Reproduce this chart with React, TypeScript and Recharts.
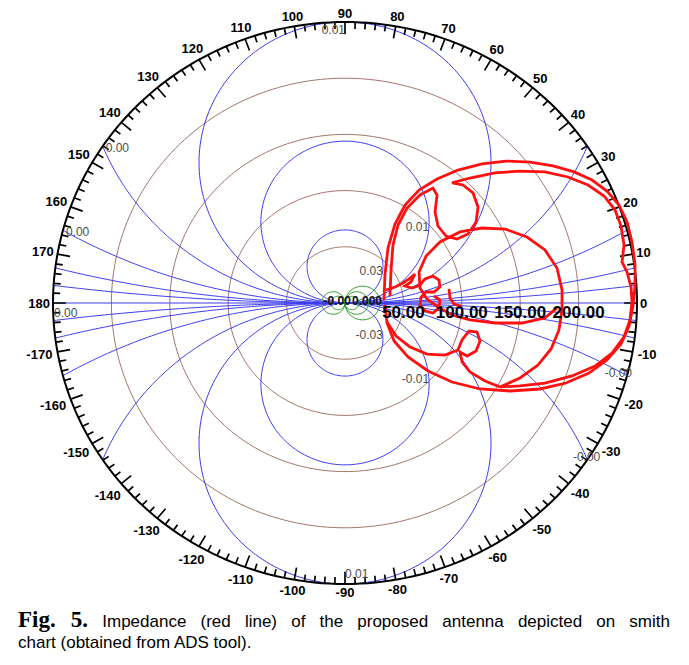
import React from "react";
import { ComposedChart, Line, Scatter, XAxis, YAxis } from "recharts";

const W = 689;
const H = 610;
const R = 250; // ohm at the outer ring

// |Z| rings (ohm) and their labels on the real axis
const magRings = [50, 100, 150, 200];
const magLabels = ["50.00", "100.00", "150.00", "200.00"];

// susceptance circles tangent to the real axis at the origin: radius in ohm (+ above, - below)
const suscCircles = [32.5, 72, 125, 224, 483, 1000, 2000, -32.5, -72, -125, -224, -483, -1000, -2000];
const suscLabels = ["0.03", "0.01", "0.01", "0.00", "0.00", "", "", "-0.03", "-0.01", "0.01", "-0.00", "-0.00", "", ""];

// conductance circles tangent to the imaginary axis at the origin
const condCircles = [15, 10, 6, -6, -10];
const centreLabels = ["-0.00", "0.000"];

// angle labels on the outer ring (degrees)
const angleLabels = [0, 10, 20, 30, 40, 50, 60, 70, 80, 90, 100, 110, 120, 130, 140, 150, 160, 170, 180,
  -10, -20, -30, -40, -50, -60, -70, -80, -90, -100, -110, -120, -130, -140, -150, -160, -170];

// impedance trace (re, im) in ohm
const traceOuter: [number, number][] = [
  [33.4, 2.7], [34.2, 24.9], [36.8, 48.9], [42.8, 70.3], [51.4, 87.2], [63.4, 100.5], [78.8, 110.3],
  [96.7, 118.3], [117.3, 123.7], [137.8, 126.3], [158.4, 125.4], [178.1, 121.9], [196.1, 116.6],
  [211.5, 109.4], [224.3, 99.6], [234.6, 87.2], [241.5, 72.1], [245.7, 54.3], [248.3, 34.7],
  [248.3, 15.1], [246.6, -2.7], [243.2, -20.5], [236.3, -36.5], [224.3, -50.7], [208.9, -62.3],
  [189.2, -71.2], [167.0, -76.5], [141.3, -78.3], [115.6, -76.5], [91.6, -70.3], [71.1, -60.5],
  [53.9, -48.0], [42.0, -33.8], [36.0, -17.8], [34.2, -1.8],
];
const traceInner: [number, number][] = [
  [38.5, 6.2], [39.4, 29.4], [41.1, 51.6], [45.4, 69.4], [53.1, 84.5], [64.2, 96.1], [75.3, 102.3],
  [78.8, 96.1], [77.1, 81.0], [79.6, 68.5], [86.5, 59.6], [95.9, 56.9], [105.3, 61.4], [112.2, 72.1],
  [113.9, 85.4], [109.6, 97.9], [101.0, 105.0], [91.6, 106.8], [107.0, 111.2], [128.4, 115.7],
  [149.8, 117.4], [171.2, 116.6], [190.9, 112.1], [208.1, 105.0], [221.8, 95.2], [231.2, 82.7],
  [236.3, 68.5], [238.9, 51.6], [237.2, 36.5], [241.4, 27.6], [244.9, 14.2], [245.7, 0.9],
  [244.0, -15.1], [238.9, -30.2], [228.6, -44.5], [214.1, -56.1], [194.4, -64.9], [171.2, -71.2],
  [149.8, -73.8], [132.7, -74.7], [149.8, -66.7], [165.2, -55.2], [176.4, -40.9], [183.2, -24.0],
  [185.8, -6.2], [185.8, 11.6], [181.5, 31.1], [171.2, 47.2], [155.8, 58.7], [137.0, 65.8],
  [117.3, 66.7], [98.5, 63.2], [81.3, 54.3], [69.4, 41.8], [63.4, 27.6], [64.2, 13.3], [70.2, 3.6],
  [79.6, -3.6], [91.6, -10.7], [107.0, -15.1], [128.4, -17.8], [151.5, -17.8], [171.2, -13.3],
  [181.5, -4.4],
];
const traceWiggle: [number, number][] = [
  [35.1, 11.6], [42.8, 14.2], [49.7, 17.8], [55.7, 22.2], [59.9, 25.8], [56.5, 18.7], [51.4, 15.1],
  [57.4, 13.3], [64.2, 16.0], [68.5, 21.4], [75.3, 24.0], [80.5, 20.5], [81.3, 14.2], [76.2, 9.8],
  [69.4, 9.8], [65.1, 5.3], [64.2, -1.8], [68.5, -7.1], [75.3, -8.9], [80.5, -4.4], [81.3, 2.7],
  [76.2, 6.2],
];
const traceHook: [number, number][] = [[89.0, 12.5], [89.9, 4.4], [93.3, -0.9], [99.3, -2.7]];
const traceLow: [number, number][] = [
  [36.0, -16.9], [43.7, -29.4], [55.7, -39.1], [70.2, -45.4], [85.6, -46.3], [96.7, -41.8],
  [100.2, -32.9], [106.2, -24.9], [113.0, -25.8], [115.6, -33.8], [112.2, -42.7], [104.5, -47.2],
  [98.5, -43.6], [100.2, -52.5], [107.0, -61.4], [119.9, -69.4], [132.7, -74.7],
];

const BLUE = "#3c3cf2";
const BROWN = "#a0766c";
const GREEN = "#2a9a2a";
const FONT = "'Liberation Sans', Arial, sans-serif";

function ring(r: number) {
  const pts = [];
  for (let i = 0; i <= 240; i++) {
    const t = (i / 240) * Math.PI * 2;
    pts.push({ x: r * Math.cos(t), y: r * Math.sin(t) });
  }
  return pts;
}

// circle through the origin, centre on the imaginary axis, clipped to the outer ring
function suscArc(b: number) {
  const B = Math.abs(b);
  const s = Math.sign(b);
  const lim = B > R / 2 ? Math.acos(1 - (R * R) / (2 * B * B)) : Math.PI;
  const pts = [];
  for (let i = 0; i <= 200; i++) {
    const p = -lim + (2 * lim * i) / 200;
    pts.push({ x: B * Math.sin(p), y: s * B * (1 - Math.cos(p)) });
  }
  return pts;
}

function condCircle(a: number) {
  const A = Math.abs(a);
  const pts = [];
  for (let i = 0; i <= 80; i++) {
    const p = (i / 80) * Math.PI * 2;
    pts.push({ x: a + A * Math.cos(p), y: A * Math.sin(p) });
  }
  return pts;
}

function tickMarks() {
  const pts: { x: number; y: number | null }[] = [];
  for (let d = -178; d <= 180; d += 2) {
    const t = (d * Math.PI) / 180;
    const len = d % 10 === 0 ? 11 : 6;
    pts.push({ x: R * Math.cos(t), y: R * Math.sin(t) });
    pts.push({ x: (R - len) * Math.cos(t), y: (R - len) * Math.sin(t) });
    pts.push({ x: 0, y: null });
  }
  return pts;
}

const toPts = (arr: [number, number][]) => arr.map(([x, y]) => ({ x, y }));

function suscLabelPoints() {
  const out: { x: number; y: number; text: string; anchor: string; dx: number; dy: number }[] = [];
  suscCircles.forEach((b, i) => {
    const text = suscLabels[i];
    if (!text) return;
    const B = Math.abs(b);
    const s = Math.sign(b);
    if (B < R / 2 - 1) {
      out.push({ x: B, y: b, text, anchor: "end", dx: 0, dy: s > 0 ? 9 : -1 });
    } else if (B < R / 2 + 1) {
      out.push({ x: 0, y: 2 * b, text, anchor: s > 0 ? "end" : "start", dx: 0, dy: s > 0 ? 12 : -6 });
    } else {
      const sn = R / (2 * B);
      const cs = Math.sqrt(1 - sn * sn);
      if (s > 0) out.push({ x: -R * cs, y: R * sn, text, anchor: "start", dx: 3, dy: 6 });
      else out.push({ x: R * cs, y: -R * sn, text, anchor: "end", dx: B < 300 ? 13 : 5, dy: 1 });
    }
  });
  out.push({ x: -R, y: 0, text: "0.00", anchor: "start", dx: 1, dy: 14 });
  return out;
}

const AngleLabel = (props: any) => {
  const { cx, cy, payload } = props;
  const t = (payload.a * Math.PI) / 180;
  const txt = String(payload.a);
  const w = txt.length * 7.3;
  const d = 3 + (w / 2) * Math.abs(Math.cos(t)) + 5.5 * Math.abs(Math.sin(t));
  return (
    <text x={cx + d * Math.cos(t)} y={cy - d * Math.sin(t)} textAnchor="middle" dominantBaseline="central"
      fontFamily={FONT} fontWeight="bold" fontSize={13} fill="#000">
      {txt}
    </text>
  );
};

const GrayLabel = (props: any) => {
  const { cx, cy, payload } = props;
  return (
    <text x={cx + payload.dx} y={cy + payload.dy} textAnchor={payload.anchor} fontFamily={FONT} fontSize={12} fill="#4d4d4d">
      {payload.text}
    </text>
  );
};

const MagLabel = (props: any) => {
  const { cx, cy, payload } = props;
  return (
    <text x={cx} y={cy + 15} textAnchor="middle" fontFamily={FONT} fontWeight="bold" fontSize={17} fill="#000">
      {payload.text}
    </text>
  );
};

const CentreLabel = (props: any) => {
  const { cx, cy, payload } = props;
  return (
    <text x={cx} y={cy + 2} textAnchor={payload.anchor} fontFamily={FONT} fontWeight="bold" fontSize={12} fill="#111">
      {payload.text}
    </text>
  );
};

export default function App() {
  const angleData = angleLabels.map((a) => ({ x: R * Math.cos((a * Math.PI) / 180), y: R * Math.sin((a * Math.PI) / 180), a }));
  const magData = magRings.map((r, i) => ({ x: r, y: 0, text: magLabels[i] }));
  const centreData = [
    { x: 5, y: 0, text: centreLabels[0], anchor: "end" },
    { x: 6, y: 0, text: centreLabels[1], anchor: "start" },
  ];
  const traces = [traceOuter, traceInner, traceWiggle, traceHook, traceLow];

  return (
    <div style={{ position: "relative", width: W, height: 665, background: "#fff" }}>
      <style>{`body{margin:0;background:#fff}`}</style>
      <ComposedChart width={W} height={H} margin={{ top: 22, right: 52, bottom: H - 584, left: 53 }}>
        <XAxis type="number" dataKey="x" domain={[-R, R]} hide />
        <YAxis type="number" dataKey="y" domain={[-R, R]} hide />
        {magRings.map((r) => (
          <Line key={`m${r}`} data={ring(r)} dataKey="y" stroke={BROWN} strokeWidth={1} dot={false} isAnimationActive={false} />
        ))}
        <Line data={[{ x: -R, y: 0 }, { x: R, y: 0 }]} dataKey="y" stroke={BLUE} strokeWidth={1} dot={false} isAnimationActive={false} />
        {suscCircles.map((b) => (
          <Line key={`b${b}`} data={suscArc(b)} dataKey="y" stroke={BLUE} strokeWidth={1} dot={false} isAnimationActive={false} />
        ))}
        {condCircles.map((a) => (
          <Line key={`g${a}`} data={condCircle(a)} dataKey="y" stroke={GREEN} strokeWidth={1} dot={false} isAnimationActive={false} />
        ))}
        <Line data={ring(R)} dataKey="y" stroke="#000" strokeWidth={2} dot={false} isAnimationActive={false} />
        <Line data={tickMarks()} dataKey="y" stroke="#000" strokeWidth={1.7} dot={false} connectNulls={false} isAnimationActive={false} />
        {traces.map((t, i) => (
          <Line key={`t${i}`} data={toPts(t)} dataKey="y" stroke="#ff1010" strokeWidth={2.8} dot={false} isAnimationActive={false} />
        ))}
        <Scatter data={angleData} dataKey="y" shape={AngleLabel} isAnimationActive={false} />
        <Scatter data={suscLabelPoints()} dataKey="y" shape={GrayLabel} isAnimationActive={false} />
        <Scatter data={centreData} dataKey="y" shape={CentreLabel} isAnimationActive={false} />
        <Scatter data={magData} dataKey="y" shape={MagLabel} isAnimationActive={false} />
      </ComposedChart>
      <div style={{ position: "absolute", left: 18, top: 609, width: 652, fontFamily: FONT, fontSize: 17, lineHeight: "21px", color: "#000" }}>
        <div style={{ textAlign: "justify", textAlignLast: "justify" }}>
          <span style={{ fontFamily: "'Liberation Serif', 'Times New Roman', serif", fontWeight: "bold", fontSize: 23 }}>Fig. 5.</span>{" "}
          Impedance (red line) of the proposed antenna depicted on smith
        </div>
        <div>chart (obtained from ADS tool).</div>
      </div>
    </div>
  );
}
